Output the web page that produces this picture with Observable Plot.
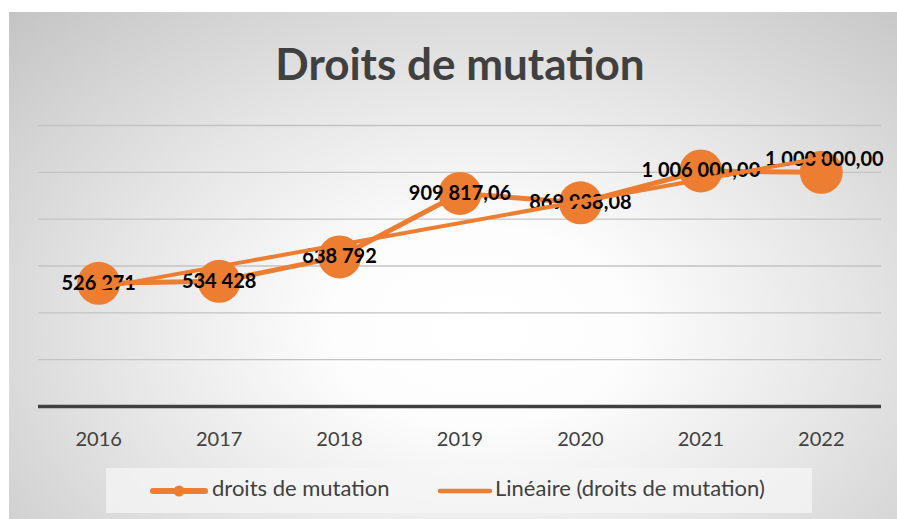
<!DOCTYPE html>
<html><head><meta charset="utf-8">
<script src="https://cdn.jsdelivr.net/npm/d3@7"></script>
<script src="https://cdn.jsdelivr.net/npm/@observablehq/plot@0.6"></script>
<style>
html,body{margin:0;padding:0;background:#fff;width:897px;height:519px;overflow:hidden;font-family:Lato,sans-serif}
#bg{position:absolute;left:9px;top:12px;width:888px;height:507px;
  background:radial-gradient(ellipse farthest-corner at 53% 62%, #ffffff 0%, #fdfdfd 22%, #e6e6e6 55%, #c4c4c4 100%);}
#title{position:absolute;left:0;width:920px;top:41px;text-align:center;font:700 44px/44px Lato;color:#404040;white-space:nowrap}
#chart{position:absolute;left:0;top:0}
#legend{position:absolute;left:106px;top:468px;width:706px;height:45px;background:rgba(245,245,245,0.75)}
.lt{position:absolute;top:9px;font:400 22px/22px Lato;color:#404040;white-space:nowrap}
.ls{position:absolute;top:13px}
</style></head>
<body>
<div id="bg"></div>
<div id="chart"></div>
<div id="title">Droits de mutation</div>
<div id="legend">
  <svg class="ls" style="left:43px" width="60" height="20"><line x1="4" y1="10" x2="56" y2="10" stroke="#ED7D31" stroke-width="6" stroke-linecap="round"/><circle cx="30" cy="10" r="5.5" fill="#ED7D31"/></svg>
  <div class="lt" id="l1" style="left:106px">droits de mutation</div>
  <svg class="ls" style="left:331px" width="56" height="20"><line x1="3" y1="10" x2="53" y2="10" stroke="#ED7D31" stroke-width="4.5" stroke-linecap="round"/></svg>
  <div class="lt" id="l2" style="left:389px">Linéaire (droits de mutation)</div>
</div>
<script>
const years = [2016, 2017, 2018, 2019, 2020, 2021, 2022];
const values = [526271, 534428, 638792, 909817.06, 869938.08, 1006000, 1000000];
const valueLabels = ["526 271", "534 428", "638 792", "909 817,06", "869 938,08", "1 006 000,00", "1 000 000,00"];
const gridValues = [200000, 400000, 600000, 800000, 1000000, 1200000];

const data = years.map((y, i) => ({year: y, value: values[i], label: valueLabels[i]}));
const orange = "#ED7D31";
const last = data.length - 1;

const chart = Plot.plot({
  width: 897,
  height: 519,
  marginLeft: 38,
  marginRight: 16,
  marginTop: 125,
  marginBottom: 113,
  style: {background: "transparent", overflow: "visible"},
  x: {domain: [2015.5, 2022.5], label: null},
  y: {domain: [0, 1200000], axis: null},
  marks: [
    Plot.ruleY(gridValues, {stroke: "#c3c3c3", strokeWidth: 1.3}),
    Plot.ruleY([0], {stroke: "#404040", strokeWidth: 3.5}),
    Plot.axisX({ticks: years, tickFormat: d => String(d), tickSize: 0, tickPadding: 25, label: null,
      fontSize: 20, fill: "#404040", fontFamily: "Lato"}),
    Plot.line(data, {x: "year", y: "value", stroke: orange, strokeWidth: 5}),
    Plot.dot(data, {x: "year", y: "value", r: 21.5, fill: orange, stroke: null}),
    Plot.text(data.filter((d, i) => i !== last), {x: "year", y: "value", text: "label",
      fontSize: 20, fontWeight: 700, fill: "#000", fontFamily: "Lato"}),
    Plot.text(data.filter((d, i) => i === last), {x: "year", y: "value", text: "label",
      dx: 3, dy: -13, fontSize: 20, fontWeight: 700, fill: "#000", fontFamily: "Lato"}),
    Plot.linearRegressionY(data, {x: "year", y: "value", stroke: orange, strokeWidth: 4, ci: 0})
  ]
});
document.getElementById("chart").appendChild(chart);
</script>
</body></html>
